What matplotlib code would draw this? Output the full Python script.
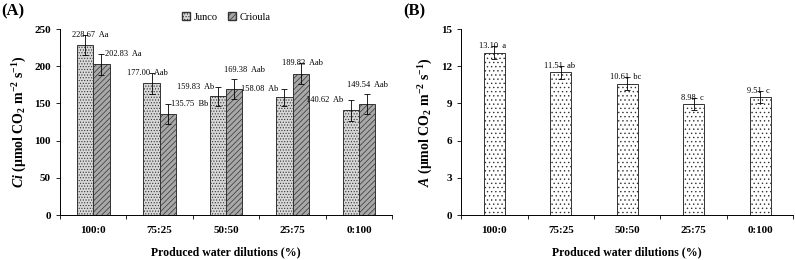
import matplotlib
matplotlib.use("Agg")
import matplotlib.pyplot as plt
import numpy as np
from matplotlib.patches import Patch

plt.rcParams['font.family'] = ['Liberation Serif', 'DejaVu Serif']
plt.rcParams['mathtext.fontset'] = 'custom'
plt.rcParams['mathtext.rm'] = 'Liberation Serif:bold'
plt.rcParams['mathtext.it'] = 'Liberation Serif:italic:bold'
plt.rcParams['mathtext.bf'] = 'Liberation Serif:bold'
plt.rcParams['hatch.linewidth'] = 0.5

dilutions = ['100:0', '75:25', '50:50', '25:75', '0:100']

# (A) internal CO2 concentration
ci_junco = [228.67, 177.00, 159.83, 158.08, 140.62]
ci_junco_err = [13, 14, 13, 12, 14]
ci_junco_lab = ['Aa', 'Aab', 'Ab', 'Ab', 'Ab']
ci_crioula = [202.83, 135.75, 169.38, 189.83, 149.54]
ci_crioula_err = [14, 13, 14, 14, 13.5]
ci_crioula_lab = ['Aa', 'Bb', 'Aab', 'Aab', 'Aab']

# (B) net photosynthesis
a_vals = [13.10, 11.51, 10.61, 8.98, 9.51]
a_err = [0.5, 0.5, 0.5, 0.5, 0.5]
a_lab = ['a', 'ab', 'bc', 'c', 'c']

fig = plt.figure(figsize=(7.95, 2.6), dpi=100)
ax1 = fig.add_axes([0.0755, 0.173, 0.418, 0.715])
ax2 = fig.add_axes([0.58, 0.173, 0.418, 0.715])

x = np.arange(len(dilutions))
w = 0.245


def style(ax, ymax, step):
    ax.spines['top'].set_visible(False)
    ax.spines['right'].set_visible(False)
    ax.set_xlim(-0.5, len(dilutions) - 0.5)
    ax.set_ylim(0, ymax)
    ax.set_yticks(np.arange(0, ymax + step / 2, step))
    ax.set_xticks(x)
    ax.set_xticklabels(dilutions, fontweight='bold', fontsize=8)
    ax.set_xticks(np.arange(-0.5, len(dilutions)), minor=True)
    ax.tick_params(axis='x', which='major', length=0, pad=8)
    ax.tick_params(axis='x', which='minor', length=3, width=0.6)
    ax.tick_params(axis='y', length=3, width=0.6, labelsize=8)
    for t in ax.get_yticklabels():
        t.set_fontweight('bold')
    for s in ax.spines.values():
        s.set_linewidth(0.7)
    ax.set_xlabel('Produced water dilutions (%)', fontweight='bold', fontsize=8.5, labelpad=8)


ekw = dict(ecolor='black', elinewidth=0.6, capsize=2, capthick=0.6)
ax1.bar(x - w / 2, ci_junco, w, yerr=ci_junco_err, color='#d8d8d8', edgecolor='#333333',
        linewidth=0.7, hatch='......', error_kw=ekw, label='Junco')
ax1.bar(x + w / 2, ci_crioula, w, yerr=ci_crioula_err, color='#a8a8a8', edgecolor='#333333',
        linewidth=0.7, hatch='//////', error_kw=ekw, label='Crioula')
style(ax1, 250, 50)
ax1.set_ylabel(r'$\mathit{Ci}$ (μmol CO$_2$ m$^{-2}$ s$^{-1}$)', fontweight='bold', fontsize=10)

junco_dx = [4, -3, -16, -18, -19]
crioula_dx = [16, 16, 7, 1, 0]
crioula_dy = [0, 0, 6, 0, 6]
for i in range(len(dilutions)):
    ax1.annotate(f'{ci_junco[i]:.2f}  {ci_junco_lab[i]}', (x[i] - w / 2, ci_junco[i] + ci_junco_err[i]),
                 xytext=(junco_dx[i], 0), textcoords='offset points', ha='center', va='center', fontsize=6)
    ax1.annotate(f'{ci_crioula[i]:.2f}  {ci_crioula_lab[i]}', (x[i] + w / 2, ci_crioula[i] + ci_crioula_err[i]),
                 xytext=(crioula_dx[i], crioula_dy[i]), textcoords='offset points', ha='center', va='center',
                 fontsize=6)

ax1.legend(handles=[Patch(facecolor='#d8d8d8', edgecolor='#333333', hatch='......', label='Junco'),
                    Patch(facecolor='#a8a8a8', edgecolor='#333333', hatch='//////', label='Crioula')],
           loc='lower center', bbox_to_anchor=(0.5, 1.0), ncol=2, frameon=False, fontsize=7.5,
           handlelength=0.8, handleheight=0.8, handletextpad=0.3, columnspacing=1.0, borderaxespad=0.3)

wb = 0.32
ax2.bar(x, a_vals, wb, yerr=a_err, color='white', edgecolor='#333333', linewidth=0.7,
        hatch='....', error_kw=ekw)
style(ax2, 15, 3)
ax2.set_ylabel(r'$\mathit{A}$ (μmol CO$_2$ m$^{-2}$ s$^{-1}$)', fontweight='bold', fontsize=10)
for i in range(len(dilutions)):
    ax2.annotate(f'{a_vals[i]:.2f}  {a_lab[i]}', (x[i], a_vals[i] + a_err[i]),
                 xytext=(-1, 0), textcoords='offset points', ha='center', va='center', fontsize=6)

fig.text(0.002, 0.955, '(A)', fontweight='bold', fontsize=12, va='center')
fig.text(0.507, 0.955, '(B)', fontweight='bold', fontsize=12, va='center')

fig.savefig('out.png', dpi=100)
